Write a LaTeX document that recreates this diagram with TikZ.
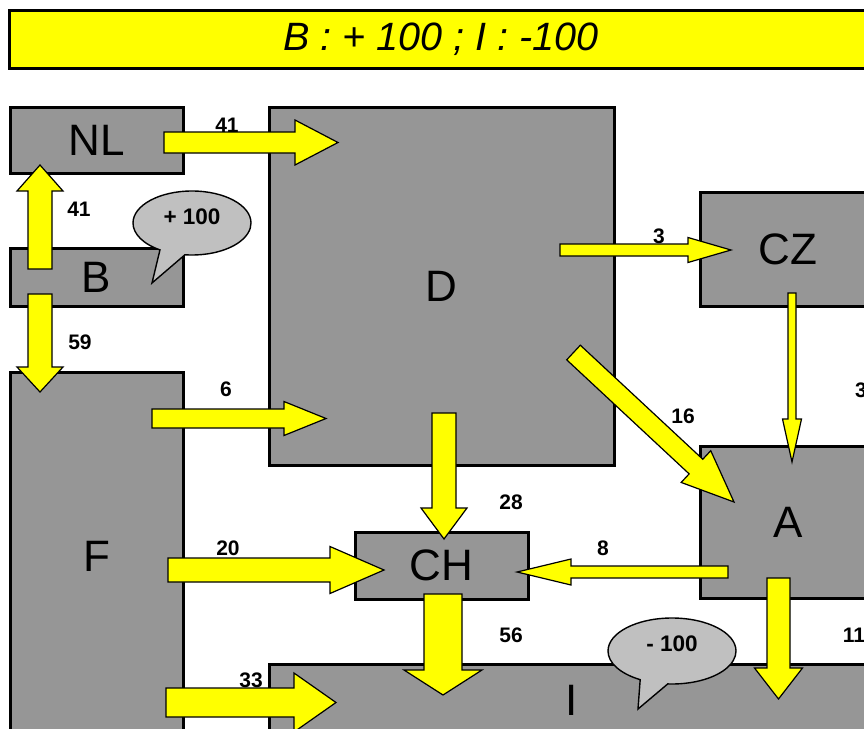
\documentclass[tikz,border=0pt]{standalone}
\usepackage{fontspec}
\setmainfont{Liberation Sans}
\usetikzlibrary{calc,shapes.callouts}
\definecolor{boxgray}{HTML}{969696}
\definecolor{calloutgray}{HTML}{C0C0C0}
\definecolor{flowyellow}{HTML}{FFFF00}
\newcommand\blockflow[5]{% tail, tip, shaft half width, head half width, head length
  \coordinate (fa-b) at ($(#2)!#5!(#1)$);
  \draw[flowarrow] ($(#1)!#3!90:(#2)$) -- ($(fa-b)!#3!90:(#2)$) -- ($(fa-b)!#4!90:(#2)$) -- (#2)
    -- ($(fa-b)!#4!-90:(#2)$) -- ($(fa-b)!#3!-90:(#2)$) -- ($(#1)!#3!-90:(#2)$) -- cycle;}
\begin{document}
\begin{tikzpicture}[x=1pt,y=-1pt,
  region/.style={draw=black, line width=3pt, fill=boxgray, inner sep=0pt,
    font=\fontsize{44}{44}\selectfont, text=black},
  flowarrow/.style={draw=black, line width=1.2pt, fill=flowyellow, line join=miter},
  qty/.style={font=\bfseries\fontsize{21}{21}\selectfont, inner sep=0pt},
  bubble/.style={ellipse callout, draw=black, line width=1.4pt, fill=calloutgray,
    font=\bfseries\fontsize{22.5}{22.5}\selectfont, inner sep=0pt, callout pointer arc=26},
  banner/.style={draw=black, line width=3pt, fill=flowyellow, inner sep=0pt,
    font=\itshape\fontsize{39.5}{39.5}\selectfont}
]
\useasboundingbox (0,0) rectangle (864,728);

% title banner
\node[banner, minimum width=864pt, minimum height=58pt] (title) at (441,39.5) {B : + 100 ; I : -100};

% regions
\node[region, minimum width=173pt, minimum height=66pt] (nl) at (96.5,140) {NL};
\node[region, minimum width=173pt, minimum height=58pt] (b) at (96.5,277) {B};
\node[region, minimum width=173pt, minimum height=368pt] (f) at (96.5,556) {F};
\node[region, minimum width=345pt, minimum height=358pt] (d) at (441.5,286) {D};
\node[region, minimum width=176pt, minimum height=114pt] (cz) at (788,249) {CZ};
\node[region, minimum width=176pt, minimum height=152pt] (a) at (788,522) {A};
\node[region, minimum width=173pt, minimum height=67pt] (ch) at (441.5,565.5) {CH};
\node[region, minimum width=606pt, minimum height=72pt] (i) at (572,700) {I};

% quantities
\node[qty] (q1) at (227,125) {41};
\node[qty] (q2) at (79,209) {41};
\node[qty] (q3) at (80,342) {59};
\node[qty] (q4) at (226,389) {6};
\node[qty] (q5) at (511,502) {28};
\node[qty] (q6) at (228,548) {20};
\node[qty] (q7) at (511,635) {56};
\node[qty] (q8) at (251,680) {33};
\node[qty] (q9) at (659,236) {3};
\node[qty] (q10) at (861,390) {3};
\node[qty] (q11) at (683,416) {16};
\node[qty] (q12) at (603,548) {8};
\node[qty] (q13) at (854,635) {11};

% arrow end points
\coordinate (nld-t) at (164,142.5);   \coordinate (nld-h) at (338,142.5);
\coordinate (bnl-t) at (40,269);      \coordinate (bnl-h) at (40,165);
\coordinate (bf-t) at (40,294);       \coordinate (bf-h) at (40,392);
\coordinate (fd-t) at (152,418.5);    \coordinate (fd-h) at (326,418.5);
\coordinate (dch-t) at (444,413);     \coordinate (dch-h) at (444,539);
\coordinate (fch-t) at (168,570);     \coordinate (fch-h) at (384,570);
\coordinate (chi-t) at (443,594);     \coordinate (chi-h) at (443,695);
\coordinate (fi-t) at (166,702.5);    \coordinate (fi-h) at (336,702.5);
\coordinate (dcz-t) at (560,250);     \coordinate (dcz-h) at (731,250);
\coordinate (cza-t) at (792,293);     \coordinate (cza-h) at (792,462);
\coordinate (da-t) at (573.5,352.5);  \coordinate (da-h) at (734,502);
\coordinate (ach-t) at (728,572);     \coordinate (ach-h) at (517,572);
\coordinate (ai-t) at (778.5,578);    \coordinate (ai-h) at (778.5,699);

% flows
\blockflow{nld-t}{nld-h}{10.5pt}{22.5pt}{43pt}
\blockflow{bnl-t}{bnl-h}{12pt}{23pt}{26pt}
\blockflow{bf-t}{bf-h}{12pt}{23pt}{25pt}
\blockflow{fd-t}{fd-h}{9.5pt}{17pt}{42pt}
\blockflow{dch-t}{dch-h}{12pt}{23pt}{31pt}
\blockflow{fch-t}{fch-h}{12pt}{23.5pt}{54pt}
\blockflow{chi-t}{chi-h}{19pt}{39pt}{25pt}
\blockflow{fi-t}{fi-h}{14.5pt}{29.5pt}{42pt}
\blockflow{dcz-t}{dcz-h}{6pt}{12.5pt}{43pt}
\blockflow{cza-t}{cza-h}{4pt}{9.5pt}{43pt}
\blockflow{da-t}{da-h}{10pt}{21.7pt}{52pt}
\blockflow{ach-t}{ach-h}{6pt}{13pt}{54pt}
\blockflow{ai-t}{ai-h}{11.5pt}{24pt}{31pt}

% callouts
\node[bubble, minimum width=118pt, minimum height=64pt, text depth=12pt,
  callout absolute pointer={(152,283)}] (plus) at (192,223) {+ 100};
\node[bubble, minimum width=128pt, minimum height=66pt, text depth=14pt,
  callout absolute pointer={(638,709)}] (minus) at (672,651) {- 100};
\end{tikzpicture}
\end{document}
